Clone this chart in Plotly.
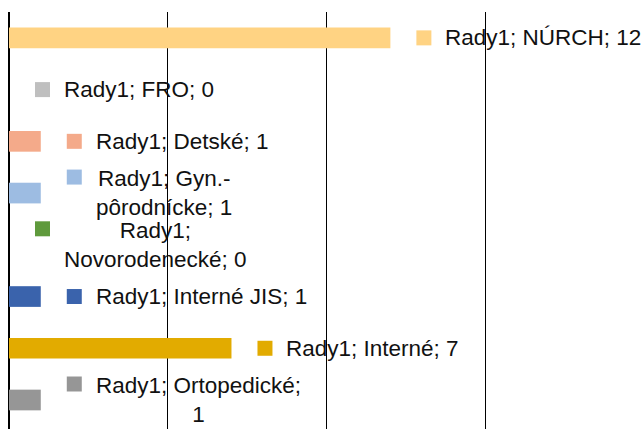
import plotly.graph_objects as go

# data
series_name = "Rady1"
categories = ["NÚRCH", "FRO", "Detské", "Gyn.-pôrodnícke", "Novorodenecké",
              "Interné JIS", "Interné", "Ortopedické"]
values = [12, 0, 1, 1, 0, 1, 7, 1]
colors = ["#FFD383", "#BFBFBF", "#F4AA8A", "#9DBCE2", "#5F9A3C",
          "#3A63AC", "#E2AB00", "#969696"]
# where each data label wraps to a second line ("" = one line)
wrap_after = ["", "", "", "Rady1; Gyn.-", "Rady1;", "", "", "Rady1; Ortopedické;"]

fig = go.Figure()

fig.add_trace(go.Bar(
    x=values,
    y=categories,
    orientation="h",
    marker=dict(color=colors, line=dict(width=0)),
    hoverinfo="x+y",
    showlegend=False,
))

# data labels: colour key square + text
for cat, val, col, w in zip(categories, values, colors, wrap_after):
    label = f"{series_name}; {cat}; {val}"
    lift = 0
    if w:
        label = label[:len(w)] + "<br>" + label[len(w):].lstrip()
        lift = 16
    fig.add_shape(
        type="rect", xref="x", yref="y",
        xsizemode="pixel", ysizemode="pixel",
        xanchor=val, yanchor=cat,
        x0=26, x1=41, y0=lift - 7.5, y1=lift + 7.5,
        fillcolor=col, line=dict(width=0),
    )
    fig.add_annotation(
        x=val, y=cat, xref="x", yref="y",
        text=label, showarrow=False,
        xanchor="left", yanchor="middle", align="center",
        xshift=53,
        font=dict(family="Liberation Sans, Arial, sans-serif", size=22.5, color="#111111"),
    )

fig.update_layout(
    width=644, height=430,
    margin=dict(l=9, r=0, t=12, b=1),
    paper_bgcolor="white", plot_bgcolor="white",
    bargap=0.6,
    showlegend=False,
    xaxis=dict(range=[0, 19.98], dtick=5, showgrid=True, gridcolor="black",
               gridwidth=1.3, zeroline=True, zerolinecolor="black", zerolinewidth=1.5,
               showticklabels=False, ticks="", fixedrange=True),
    yaxis=dict(type="category", autorange="reversed", showgrid=False,
               showticklabels=False, ticks="", zeroline=False, fixedrange=True),
)

# no page margin so the figure fills the window
fig.write_html("out.html",
               config={"displayModeBar": False},
               post_script="document.body.style.margin='0';document.body.style.overflow='hidden';")
